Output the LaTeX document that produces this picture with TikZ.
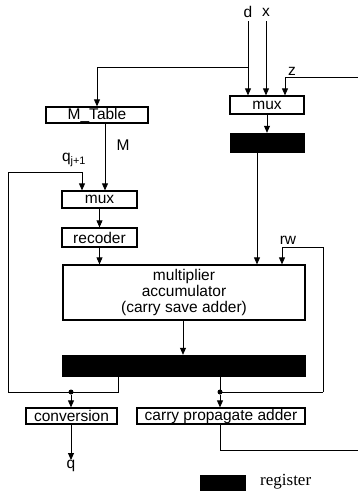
\documentclass[tikz,border=0pt]{standalone}
\usepackage{fontspec}
\setmainfont{Liberation Sans}
\newfontfamily\legendfont{Liberation Serif}
\usetikzlibrary{arrows.meta}
\begin{document}
\begin{tikzpicture}[x=1pt,y=-1pt,
  box/.style={draw,line width=1.3pt,inner sep=0pt,font=\fontsize{15.5}{16}\selectfont},
  regbox/.style={draw,fill=black,inner sep=0pt},
  lbl/.style={font=\fontsize{15.5}{16}\selectfont,inner sep=0pt},
  wire/.style={line width=0.8pt},
  arr/.style={wire,-{Triangle[length=7pt,width=6pt]}},
  dot/.style={circle,fill=black,inner sep=0pt,minimum size=5pt}]
\useasboundingbox (0,0) rectangle (358,498);
% boxes
\node[box,minimum width=74pt,minimum height=18pt] (mux1) at (267,105) {mux};
\node[regbox,minimum width=74pt,minimum height=19pt] (reg1) at (267,142.5) {};
\node[box,minimum width=102pt,minimum height=16pt] (mtab) at (97,115) {M\_Table};
\node[box,minimum width=75pt,minimum height=17pt] (mux2) at (99.5,199.5) {mux};
\node[box,minimum width=75pt,minimum height=19pt] (rec) at (99.5,237.5) {recoder};
\node[box,minimum width=242pt,minimum height=55pt,align=center] (mac) at (184,292.5) {multiplier\\[0pt]accumulator\\[0pt](carry save adder)};
\node[regbox,minimum width=243pt,minimum height=21pt] (reg2) at (183.5,365.5) {};
\node[box,minimum width=91pt,minimum height=16pt] (conv) at (71.5,416) {conversion};
\node[box,minimum width=168pt,minimum height=16pt] (cpa) at (221,416) {carry propagate adder};
\node[regbox,minimum width=45pt,minimum height=15pt] (legreg) at (222.5,482.5) {};
\node[anchor=west,inner sep=0pt,font=\legendfont\fontsize{17}{18}\selectfont] (legtxt) at (260,482) {register};
% labels
\node[lbl] (dlab) at (248,12) {d};
\node[lbl] (xlab) at (266,12) {x};
\node[lbl] (zlab) at (292,71) {z};
\node[lbl] (mlab) at (123,145) {M};
\node[lbl] (qjlab) at (74,160) {q\textsubscript{j+1}};
\node[lbl] (rwlab) at (288,240) {rw};
\node[lbl] (qlab) at (71,466) {q};
% coordinates
\coordinate (dtop) at (248,21);
\coordinate (xtop) at (266,21);
\coordinate (dbr) at (248,67);
\coordinate (zin) at (358,77);
\coordinate (zturn) at (285,77);
\coordinate (qleft) at (8,392);
\coordinate (qtop) at (8,172);
\coordinate (qturn) at (82,172);
\coordinate (lreg) at (118,376);
\coordinate (lj) at (118,392);
\coordinate (rreg) at (220,376);
\coordinate (rj) at (220,392);
\coordinate (rwr) at (323,392);
\coordinate (rwtop) at (323,247);
\coordinate (rwturn) at (282,247);
\coordinate (cpaout) at (220,450);
\coordinate (cpaend) at (358,450);
\coordinate (r1x) at (257,0);
\coordinate (mx) at (105,0);
\coordinate (macx) at (183,0);
% connectors
\draw[arr] (dtop) -- (dtop |- mux1.north);
\draw[arr] (xtop) -- (xtop |- mux1.north);
\draw[arr] (dbr) -| (mtab.north);
\draw[arr] (zin) -- (zturn) -- (zturn |- mux1.north);
\draw[arr] (mux1.south) -- (reg1.north);
\draw[arr] (reg1.south -| r1x) -- (mac.north -| r1x);
\draw[arr] (mtab.south -| mx) -- (mux2.north -| mx);
\draw[arr] (qleft) -- (qtop) -- (qturn) -- (qturn |- mux2.north);
\draw[arr] (mux2.south) -- (rec.north);
\draw[arr] (rec.south) -- (rec.south |- mac.north);
\draw[arr] (rwr) -- (rwtop) -- (rwturn) -- (rwturn |- mac.north);
\draw[arr] (mac.south -| macx) -- (reg2.north -| macx);
\draw[wire] (lreg) -- (lj) -- (qleft);
\node[dot] (ldot) at (71,392) {};
\draw[arr] (ldot) -- (ldot |- conv.north);
\draw[wire] (rreg) -- (rj) -- (rwr);
\node[dot] (rdot) at (rj) {};
\draw[arr] (rdot) -- (rdot |- cpa.north);
\draw[wire] (cpa.south -| cpaout) -- (cpaout) -- (cpaend);
\draw[arr] (conv.south -| qlab) -- (qlab.north);
\end{tikzpicture}
\end{document}
